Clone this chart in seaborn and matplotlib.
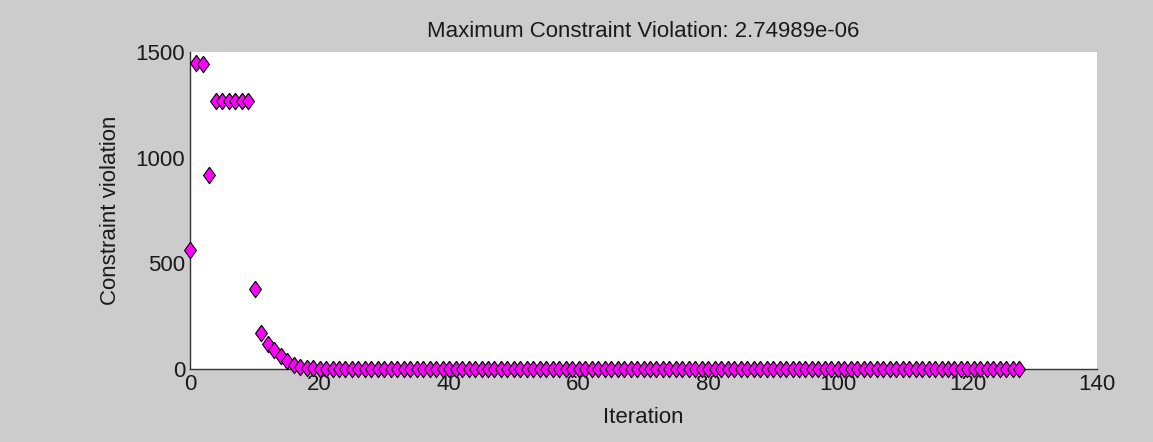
import matplotlib
matplotlib.use("Agg")
import matplotlib.pyplot as plt
import seaborn as sns
import numpy as np
import pandas as pd

title = "Maximum Constraint Violation: 2.74989e-06"
xlabel = "Iteration"
ylabel = "Constraint violation"
xticks = [0, 20, 40, 60, 80, 100, 120, 140]
yticks = [0, 500, 1000, 1500]

iterations = list(range(0, 129))
violation = [
    565, 1450, 1445, 920, 1270, 1270, 1270, 1270, 1270, 1270,
    380, 172, 120, 90, 62, 38, 20, 11, 6, 3.5,
    2, 1.2, 0.8, 0.5, 0.3, 0.2, 0.1, 0.1, 0.05, 0.05,
    0, 0, 0, 0, 0, 0, 0, 0, 0, 0,
    0, 0, 0, 0, 0, 0, 0, 0, 0, 0,
    0, 0, 0, 0, 0, 0, 0, 0, 0, 0,
    0, 0, 0, 0, 0, 0, 0, 0, 0, 0,
    0, 0, 0, 0, 0, 0, 0, 0, 0, 0,
    0, 0, 0, 0, 0, 0, 0, 0, 0, 0,
    0, 0, 0, 0, 0, 0, 0, 0, 0, 0,
    0, 0, 0, 0, 0, 0, 0, 0, 0, 0,
    0, 0, 0, 0, 0, 0, 0, 0, 0, 0,
    0, 0, 0, 0, 0, 0, 0, 0, 0,
]

df = pd.DataFrame({"iter": iterations, "viol": violation})

sns.set_style("white")
plt.rcParams['font.family'] = ['Liberation Sans', 'DejaVu Sans']

W, H = 1153, 442
AX_L, AX_R, AX_T, AX_B = 190, 1097, 52, 369
fig = plt.figure(figsize=(W / 100, H / 100), dpi=100, facecolor="#cccccc")
ax = fig.add_axes([AX_L / W, (H - AX_B) / H, (AX_R - AX_L) / W, (AX_B - AX_T) / H])
ax.set_facecolor("white")

diamond = [(0, 1), (0.72, 0), (0, -1), (-0.72, 0), (0, 1)]
sns.scatterplot(data=df, x="iter", y="viol", ax=ax, marker=diamond, s=140,
                color="#ff00ff", edgecolor="black", linewidth=0.8,
                clip_on=False, zorder=3, legend=False)

ax.set_xlim(0, 140)
ax.set_ylim(0, 1500)
ax.set_xticks(xticks)
ax.set_yticks(yticks)
ax.set_xticklabels([str(t) for t in xticks])
ax.set_yticklabels([str(t) for t in yticks])

for s in ["top", "right"]:
    ax.spines[s].set_visible(False)
for s in ["left", "bottom"]:
    ax.spines[s].set_color("#333333")
    ax.spines[s].set_linewidth(1.0)

fs = 16
txt = "#1a1a1a"
ax.tick_params(direction="in", length=6.5, width=1.0, color="#333333",
               labelsize=fs, labelcolor=txt, pad=3.5)
ax.set_xlabel(xlabel, fontsize=fs, color=txt)
ax.set_ylabel(ylabel, fontsize=fs, color=txt)
ax.yaxis.set_label_coords((121 - AX_L) / (AX_R - AX_L), 0.5)
ax.xaxis.set_label_coords(0.5, (AX_B - 407) / (AX_B - AX_T))
ax.set_title(title, fontsize=fs, color=txt, pad=10.8)

fig.savefig("out.png", dpi=100, facecolor=fig.get_facecolor())
